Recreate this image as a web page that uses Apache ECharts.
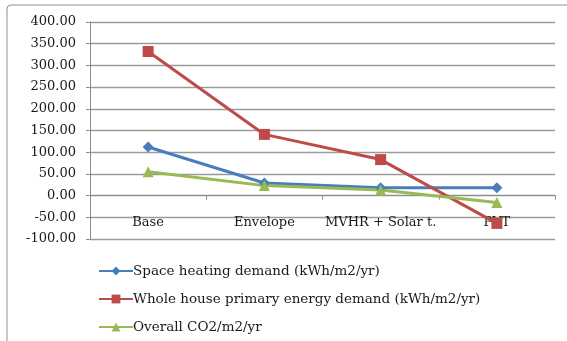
<!DOCTYPE html>
<html>
<head>
<meta charset="utf-8">
<script src="https://cdn.jsdelivr.net/npm/echarts@6/dist/echarts.min.js"></script>
<style>
  html, body { margin: 0; padding: 0; background: #fff; }
  #chart { width: 567px; height: 341px; }
</style>
</head>
<body>
<div id="chart"></div>
<script>
// Scenario steps along the horizontal axis
const categories = ['Base', 'Envelope', 'MVHR + Solar t.', 'PVT'];

// Series values per scenario
const spaceHeating = [112, 29, 18, 18];
const primaryEnergy = [332, 141, 83, -64];
const co2 = [55, 23, 13, -16];

const seriesNames = [
  'Space heating demand (kWh/m2/yr)',
  'Whole house primary energy demand (kWh/m2/yr)',
  'Overall CO2/m2/yr'
];

// Value axis range and step
const yMin = -100, yMax = 400, yStep = 50;

const FONT = 'DejaVu Serif';
const chart = echarts.init(document.getElementById('chart'), null, { renderer: 'canvas' });

function lineSeries(name, data, color, symbol, size) {
  return {
    name: name,
    type: 'line',
    data: data,
    symbol: symbol,
    symbolSize: size,
    lineStyle: { color: color, width: 3 },
    itemStyle: { color: color },
    emphasis: { disabled: true },
    animation: false
  };
}

chart.setOption({
  backgroundColor: '#ffffff',
  animation: false,
  textStyle: { fontFamily: FONT },
  graphic: [{
    type: 'rect',
    shape: { x: 7, y: 5, width: 620, height: 400, r: 4 },
    style: { fill: 'none', stroke: '#8f8f8f', lineWidth: 1 },
    silent: true,
    z: -1
  }],
  grid: { left: 90, right: 12, top: 22, bottom: 102 },
  xAxis: {
    type: 'category',
    data: categories,
    boundaryGap: true,
    axisLine: { onZero: true, lineStyle: { color: '#8c8c8c', width: 1 } },
    axisTick: { show: true, interval: 0, length: 4, inside: false, lineStyle: { color: '#8c8c8c' } },
    axisLabel: { interval: 0, color: '#1a1a1a', fontFamily: FONT, fontSize: 13, margin: -23 },
    splitLine: { show: false }
  },
  yAxis: {
    type: 'value',
    min: yMin,
    max: yMax,
    interval: yStep,
    axisLine: { show: true, lineStyle: { color: '#8c8c8c', width: 1 } },
    axisTick: { show: true, length: 4, lineStyle: { color: '#8c8c8c' } },
    axisLabel: {
      color: '#1a1a1a', fontFamily: FONT, fontSize: 13, margin: 14,
      formatter: v => v.toFixed(2)
    },
    splitLine: { show: true, lineStyle: { color: '#9a9a9a', width: 1.3 } }
  },
  legend: {
    orient: 'vertical',
    left: 98,
    top: 264,
    height: 78,
    padding: 0,
    itemWidth: 34,
    itemHeight: 11,
    itemGap: 14,
    textStyle: { color: '#1a1a1a', fontFamily: FONT, fontSize: 13.5, lineHeight: 14, padding: [0, 0, 0, -5] },
    data: seriesNames
  },
  series: [
    lineSeries(seriesNames[0], spaceHeating, '#4a7ebb', 'diamond', 11),
    lineSeries(seriesNames[1], primaryEnergy, '#be4b48', 'rect', 11),
    lineSeries(seriesNames[2], co2, '#98b954', 'triangle', 11)
  ]
});
</script>
</body>
</html>
